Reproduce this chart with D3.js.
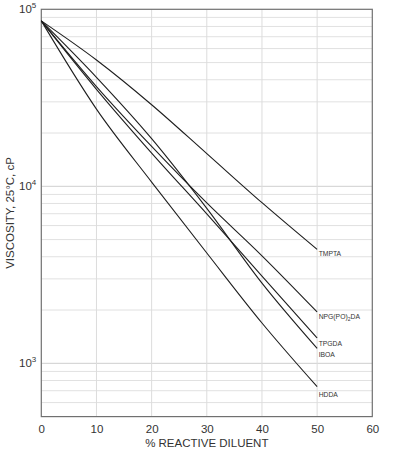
<!DOCTYPE html>
<html><head><meta charset="utf-8">
<script src="https://cdn.jsdelivr.net/npm/d3@7"></script>
<style>
body{margin:0;background:#fff}
svg{display:block}
text{font-family:"Liberation Sans",Arial,Helvetica,sans-serif;fill:#333}
</style>
</head><body>
<svg id="c" width="398" height="459"></svg>
<script>
// ---- data ----
const diluent = [0, 10, 20, 30, 40, 50];
const seriesNames = ["TMPTA", "NPG(PO)2DA", "TPGDA", "IBOA", "HDDA"];
const tmpta  = [86000, 51700, 28900, 15300, 8080, 4400];
const npgpo2da = [86000, 36600, 16800, 8050, 4050, 1950];
const tpgda  = [86000, 35300, 15400, 6980, 3110, 1390];
const iboa   = [86000, 41300, 18600, 7510, 2840, 1215];
const hdda   = [86000, 27300, 10570, 4200, 1690, 738];
const xTicks = [0, 10, 20, 30, 40, 50, 60];
const yDecadeExponents = [3, 4, 5];
const xTitle = "% REACTIVE DILUENT";
const yTitle = "VISCOSITY, 25°C, cP";

// ---- layout ----
const svg = d3.select("#c");
const pL = 41.3, pR = 372.3, pT = 9.3, pB = 416.6;
const x = d3.scaleLinear().domain([0, 60]).range([pL, pR]);
const y = d3.scaleLog().domain([500, 100000]).range([pB, pT]);

const seriesValues = [tmpta, npgpo2da, tpgda, iboa, hdda];
const series = seriesNames.map((n, i) => ({name: n, values: seriesValues[i].map((v, j) => ({x: diluent[j], y: v}))}));

// grid: horizontal (log minor ticks)
const g = svg.append("g");
const hTicks = y.ticks().filter(v => v > 500 && v < 100000);
g.selectAll("line.h").data(hTicks).enter().append("line")
  .attr("x1", pL).attr("x2", pR)
  .attr("y1", d => y(d)).attr("y2", d => y(d))
  .attr("stroke", d => [1000, 10000].includes(d) ? "#cfcfcf" : "#e1e1e1")
  .attr("stroke-width", 1);
// grid: vertical
g.selectAll("line.v").data(xTicks.filter(v => v > 0 && v < 60)).enter().append("line")
  .attr("x1", d => x(d)).attr("x2", d => x(d))
  .attr("y1", pT).attr("y2", pB)
  .attr("stroke", "#dcdcdc").attr("stroke-width", 1);

// frame
svg.append("rect").attr("x", pL).attr("y", pT)
  .attr("width", pR - pL).attr("height", pB - pT)
  .attr("fill", "none").attr("stroke", "#707070").attr("stroke-width", 1.2);

// x axis labels
const xAxis = d3.axisBottom(x).tickValues(xTicks).tickSize(0).tickPadding(8);
const xa = svg.append("g").attr("transform", `translate(0,${pB})`).call(xAxis);
xa.select(".domain").remove();
xa.selectAll("text").style("font-size", "11.5px").attr("fill", "#333")
  .style("font-family", '"Liberation Sans",Arial,sans-serif');

// y axis labels (10^n)
const ya = svg.append("g");
yDecadeExponents.forEach(e => {
  const t = ya.append("text").attr("x", pL - 5).attr("y", y(Math.pow(10, e)) + 4)
    .attr("text-anchor", "end").style("font-size", "11.5px");
  t.append("tspan").text("10");
  t.append("tspan").attr("dy", -5).style("font-size", "8px").text(String(e));
});

// lines
const line = d3.line().x(d => x(d.x)).y(d => y(d.y)).curve(d3.curveMonotoneX);
svg.selectAll("path.s").data(series).enter().append("path")
  .attr("d", d => line(d.values))
  .attr("fill", "none").attr("stroke", "#1e1e1e").attr("stroke-width", 1.1);

// series labels
const labelDy = {"TMPTA": 4.5, "NPG(PO)2DA": 4.7, "TPGDA": 5.3, "IBOA": 6, "HDDA": 8.3};
series.forEach(s => {
  const last = s.values[s.values.length - 1];
  const t = svg.append("text").attr("x", x(last.x) + 1.5)
    .attr("y", y(last.y) + labelDy[s.name]).attr("dy", "0.35em")
    .style("font-size", "6.8px");
  const m = s.name.match(/^(.*\))(\d)(.*)$/);
  if (m) {
    t.append("tspan").text(m[1]);
    t.append("tspan").attr("dy", 1.5).style("font-size", "5px").text(m[2]);
    t.append("tspan").attr("dy", -1.5).text(m[3]);
  } else t.text(s.name);
});

// axis titles
svg.append("text").attr("x", (pL + pR) / 2).attr("y", 447)
  .attr("text-anchor", "middle").style("font-size", "11.5px").text(xTitle);
svg.append("text").attr("transform", `translate(14,${(pT + pB) / 2}) rotate(-90)`)
  .attr("text-anchor", "middle").style("font-size", "11.5px").text(yTitle);
</script>
</body></html>
